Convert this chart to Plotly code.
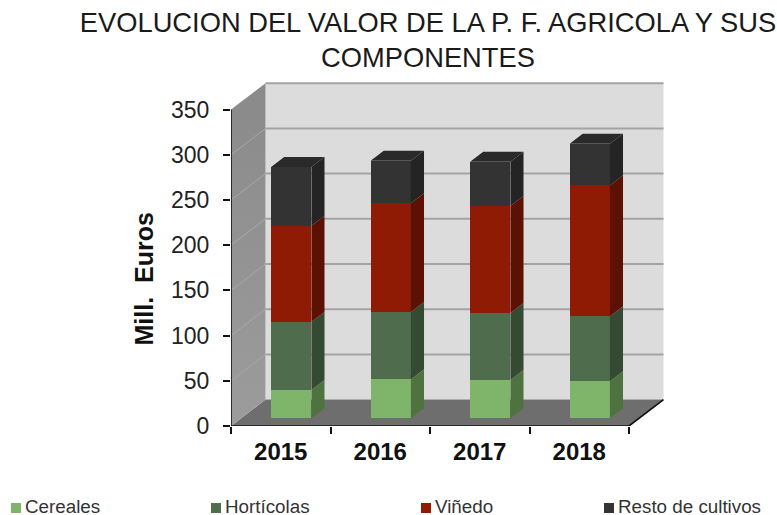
import plotly.graph_objects as go

# Data (Mill. Euros)
categories = ["2015", "2016", "2017", "2018"]
cereales = [31.3, 43.1, 42.4, 40.9]
horticolas = [75.2, 74.5, 74.1, 72.1]
vinedo = [106.5, 120.2, 118.3, 144.7]
resto = [65.0, 47.2, 49.1, 46.1]
series_names = ["Cereales", "Hortícolas", "Viñedo", "Resto de cultivos"]
y_ticks = [0, 50, 100, 150, 200, 250, 300, 350]

series = [cereales, horticolas, vinedo, resto]
front_colors = ["#7fb46b", "#4f6c4c", "#8f1b05", "#333333"]
side_colors = ["#4f7340", "#354a33", "#5c1103", "#242424"]
top_color = "#2a2a2a"

W, H = 777, 515
L, R, T, B = 231, 105, 78, 89
PW, PH = W - L - R, H - T - B
UX, UY = 99.5, 0.904           # pixels per category, pixels per million
XMAX, YMAX = PW / UX, PH / UY
DX, DY = 34.5 / UX, 26.4 / UY  # depth of the 3-D box in axis units
F0, F1 = 0.29, 0.67            # front and back of the bars inside the depth
BAR_W = 40.3 / UX
NCAT, YTOP = len(categories), y_ticks[-1]


def px(x):
    return (x - L) / PW


def py(y):
    return (H - B - y) / PH


def path(points):
    return "M " + " L ".join(f"{x:.4f} {y:.4f}" for x, y in points) + " Z"


fig = go.Figure()
shapes = []

# Back wall and floor
shapes.append(dict(type="path", layer="below", line_width=0, fillcolor="#dcdcdc",
                   path=path([(DX, DY), (NCAT + DX, DY), (NCAT + DX, YTOP + DY), (DX, YTOP + DY)])))
shapes.append(dict(type="path", layer="below", line_width=0, fillcolor="#6e6e6e",
                   path=path([(0, 0), (NCAT, 0), (NCAT + DX, DY), (DX, DY)])))
for v in y_ticks[1:]:
    shapes.append(dict(type="line", layer="below", x0=DX, x1=NCAT + DX, y0=v + DY, y1=v + DY,
                       line=dict(color="#a3a3a3", width=2)))

# Side wall
fig.add_trace(go.Scatter(x=[0, DX, DX, 0, 0], y=[0, DY, YTOP + DY, YTOP, 0], mode="lines",
                         fill="toself", line=dict(width=0), showlegend=False, hoverinfo="skip",
                         fillgradient=dict(type="vertical",
                                           colorscale=[[0, "#9c9c9c"], [1, "#8a8a8a"]])))
wall_x, wall_y = [], []
for v in y_ticks[1:-1]:
    wall_x += [0, DX, None]
    wall_y += [v, v + DY, None]
fig.add_trace(go.Scatter(x=wall_x, y=wall_y, mode="lines", showlegend=False, hoverinfo="skip",
                         line=dict(color="#a8a8a8", width=1)))

# Bars: front faces, then side and top faces derived from the same values
x_front = [i + 0.505 + F0 * DX for i in range(NCAT)]
base = [F0 * DY] * NCAT
dx, dy = (F1 - F0) * DX, (F1 - F0) * DY
for name, vals, fc, sc in zip(series_names, series, front_colors, side_colors):
    fig.add_trace(go.Bar(x=x_front, y=vals, base=base, width=BAR_W, name=name,
                         marker=dict(color=fc, line_width=0), showlegend=False))
    sx, sy = [], []
    for i in range(NCAT):
        xr = x_front[i] + BAR_W / 2
        y0, y1 = base[i], base[i] + vals[i]
        sx += [xr, xr + dx, xr + dx, xr, xr, None]
        sy += [y0, y0 + dy, y1 + dy, y1, y0, None]
    fig.add_trace(go.Scatter(x=sx, y=sy, mode="lines", fill="toself", fillcolor=sc,
                             line=dict(width=0), showlegend=False, hoverinfo="skip"))
    base = [b + v for b, v in zip(base, vals)]

tx, ty = [], []
for i in range(NCAT):
    xl, xr = x_front[i] - BAR_W / 2, x_front[i] + BAR_W / 2
    tx += [xl, xr, xr + dx, xl + dx, xl, None]
    ty += [base[i], base[i], base[i] + dy, base[i] + dy, base[i], None]
fig.add_trace(go.Scatter(x=tx, y=ty, mode="lines", fill="toself", fillcolor=top_color,
                         line=dict(width=0), showlegend=False, hoverinfo="skip"))

# Axis lines at the front plane, and the open right edge of the floor
fig.add_trace(go.Scatter(x=[0, 0, None, 0, NCAT, NCAT + DX], y=[YTOP, 0, None, 0, 0, DY], mode="lines",
                         cliponaxis=False, showlegend=False, hoverinfo="skip",
                         line=dict(color="#111111", width=1.6)))

annotations = [
    dict(text="Mill.  Euros", textangle=-90, x=px(143), y=py(279.5), xref="paper", yref="paper",
         xanchor="center", yanchor="middle", showarrow=False,
         font=dict(family="Liberation Sans", size=25, color="#111111", weight="bold")),
]
legend_x = [11, 211, 421, 604]
for lx, name in zip(legend_x, series_names):
    annotations.append(dict(text=name, x=px(lx + 11.5), y=py(506), xref="paper", yref="paper",
                            xanchor="left", yanchor="middle", showarrow=False,
                            font=dict(family="Liberation Sans", size=18.8, color="#333333")))
for lx, c in zip(legend_x, front_colors):
    shapes.append(dict(type="rect", xref="paper", yref="paper", x0=px(lx), x1=px(lx + 10),
                       y0=py(513), y1=py(503), fillcolor=c, line_width=0))

fig.update_layout(
    width=W, height=H, autosize=False,
    margin=dict(l=L, r=R, t=T, b=B),
    paper_bgcolor="white", plot_bgcolor="rgba(0,0,0,0)",
    barmode="overlay", bargap=0,
    title=dict(text="EVOLUCION DEL VALOR DE LA P. F. AGRICOLA Y SUS<br>COMPONENTES",
               x=px(428), xanchor="center", xref="paper", y=1 - 31.5 / H, yanchor="middle",
               font=dict(family="Liberation Sans", size=27.3, color="#1a1a1a")),
    xaxis=dict(range=[0, XMAX], tickvals=[i + 0.5 for i in range(NCAT)], ticktext=categories,
               ticks="", showgrid=False, zeroline=False, showline=False, ticklabelstandoff=9,
               tickfont=dict(family="Liberation Sans", size=24, color="#111111", weight="bold"),
               minor=dict(tickvals=list(range(NCAT + 1)), ticks="outside", ticklen=7,
                          tickwidth=1.5, tickcolor="#111111", showgrid=False)),
    yaxis=dict(range=[0, YMAX], tickvals=y_ticks, ticks="outside", ticklen=7, tickwidth=1.5,
               tickcolor="#111111", showgrid=False, zeroline=False, showline=False,
               ticklabelstandoff=9,
               tickfont=dict(family="Liberation Sans", size=23, color="#222222")),
    shapes=shapes, annotations=annotations,
)
fig.write_html("out.html", config={"displayModeBar": False},
               post_script="document.body.style.margin='0';")
